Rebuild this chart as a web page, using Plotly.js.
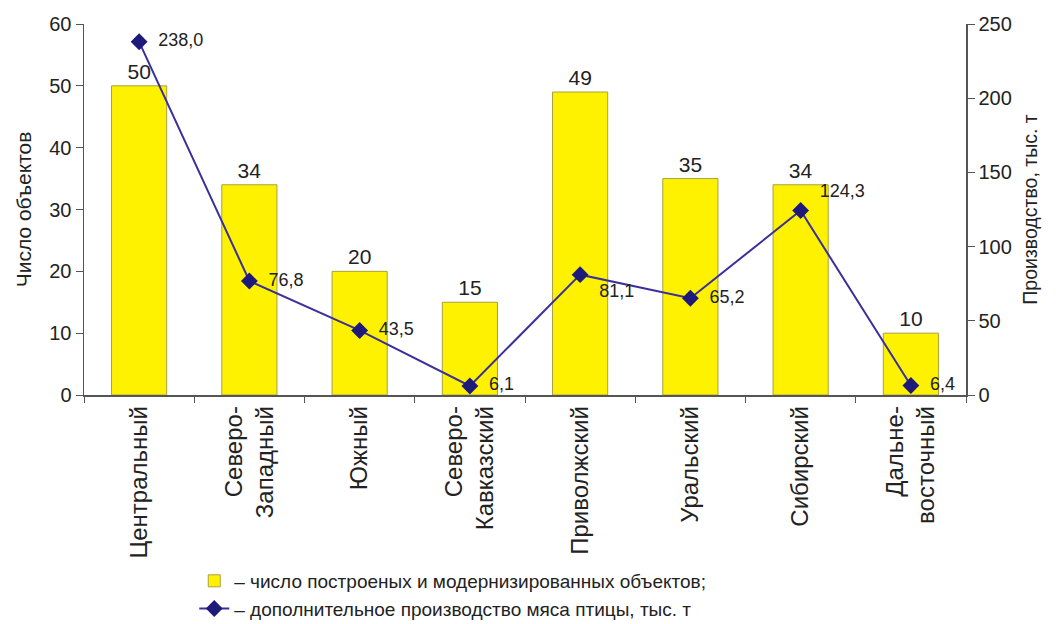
<!DOCTYPE html>
<html><head><meta charset="utf-8">
<script src="https://cdn.plot.ly/plotly-3.0.1.min.js"></script>
<style>html,body{margin:0;padding:0;background:#fff}#chart{width:1056px;height:624px}</style>
</head><body><div id="chart"></div>
<script>
const categories = ['Центральный','Северо-<br>Западный','Южный','Северо-<br>Кавказский','Приволжский','Уральский','Сибирский','Дальне-<br>восточный'];
const objects = [50, 34, 20, 15, 49, 35, 34, 10];
const production = [238.0, 76.8, 43.5, 6.1, 81.1, 65.2, 124.3, 6.4];
const productionLabels = ['238,0','76,8','43,5','6,1','81,1','65,2','124,3','6,4'];
const labelPositions = ['middle right','middle right','middle right','middle right','bottom right','middle right','top right','middle right'];
const barName = '– число построеных и модернизированных объектов;';
const lineName = '– дополнительное производство мяса птицы, тыс. т';

const font = 'Liberation Sans, Arial, sans-serif';
const traces = [
  {type:'bar', x:categories, y:objects, name:barName, width:0.5,
   marker:{color:'#FFF200', line:{color:'#A8A040', width:1}},
   text:objects.map(String), textposition:'outside', cliponaxis:false,
   textfont:{size:21, color:'#222', family:font}},
  {type:'scatter', mode:'lines+markers+text', x:categories, y:production, yaxis:'y2', name:lineName,
   line:{color:'#3B2F9C', width:2}, marker:{symbol:'diamond', size:13, color:'#1E1A7A'},
   text:productionLabels.map(s=>'  '+s), textposition:labelPositions, cliponaxis:false,
   textfont:{size:18, color:'#222', family:font}}
];
const layout = {
  width:1056, height:624,
  margin:{l:84, r:90, t:24, b:229, autoexpand:false},
  paper_bgcolor:'#fff', plot_bgcolor:'#fff',
  font:{family:font, color:'#222', size:19},
  xaxis:{showline:true, linecolor:'#555', linewidth:1.5, tickangle:-90,
    ticks:'outside', tickson:'boundaries', ticklen:6, tickcolor:'#555',
    tickfont:{size:24}, showgrid:false, zeroline:false, automargin:false},
  yaxis:{range:[0,60], dtick:10, showline:true, linecolor:'#555', linewidth:1.5,
    ticks:'outside', ticklen:7, tickcolor:'#555', tickfont:{size:20}, showgrid:false, zeroline:false, automargin:false,
    title:{text:'Число объектов', font:{size:21}, standoff:12}},
  yaxis2:{range:[0,250], dtick:50, overlaying:'y', side:'right', showline:true, linecolor:'#555', linewidth:1.5,
    ticks:'outside', ticklen:7, tickcolor:'#555', tickfont:{size:20}, showgrid:false, zeroline:false, automargin:false,
    title:{text:'Производство, тыс. т', font:{size:19.5}, standoff:12}},
  showlegend:true,
  legend:{orientation:'v', x:0.125, xanchor:'left', y:-0.45, yanchor:'top', font:{size:19}, tracegroupgap:0, bgcolor:'rgba(0,0,0,0)'}
};
Plotly.newPlot('chart', traces, layout, {displayModeBar:false, staticPlot:true});
</script>
</body></html>
